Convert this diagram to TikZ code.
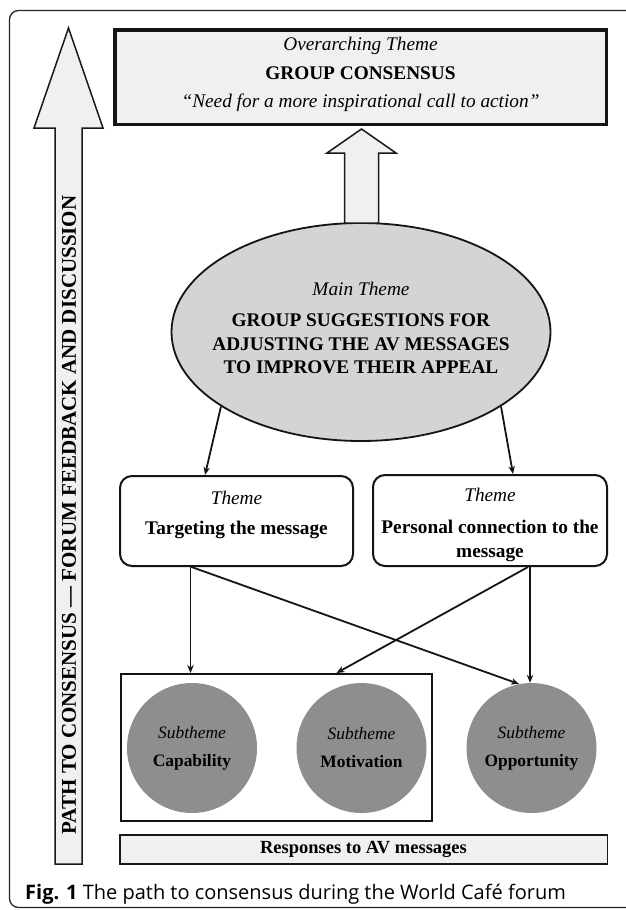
\documentclass[tikz,border=0pt]{standalone}
\usepackage{fontspec}
\setmainfont{Liberation Serif}
\newfontfamily\capfont{Open Sans}
\usetikzlibrary{arrows.meta,shapes.geometric}
\definecolor{lightfill}{RGB}{240,240,240}
\definecolor{ellgray}{RGB}{212,212,212}
\definecolor{circgray}{RGB}{142,142,142}
\tikzset{
  blockarrow/.style={draw=black!90, line width=1.5pt, fill=lightfill, line join=miter},
  topbox/.style={draw=black!92, line width=3.5pt, fill=lightfill, minimum width=491.5pt, minimum height=94.5pt, inner sep=0pt},
  themebox/.style={draw=black!92, line width=2pt, rounded corners=12pt, fill=white, inner sep=0pt},
  txt/.style={inner sep=0pt, align=center},
  subcircle/.style={circle, fill=circgray, draw=none, minimum size=130pt, inner sep=0pt, align=center, font=\fontsize{17.4}{28}\selectfont},
  grpbox/.style={draw=black!92, line width=2pt, inner sep=0pt, minimum width=311pt, minimum height=147pt},
  arr/.style={draw=black!92, line width=1.8pt, -{Stealth[length=8pt,width=6.5pt]}},
  mainell/.style={ellipse, draw=black!92, line width=1.8pt, fill=ellgray, minimum width=379pt, minimum height=218pt, inner sep=0pt},
  bar/.style={draw=black!90, line width=1.5pt, fill=lightfill, minimum width=487.5pt, minimum height=29pt, inner sep=0pt, font=\fontsize{18.5}{22}\selectfont\bfseries}
}
\begin{document}
\begin{tikzpicture}[x=1pt,y=-1pt]
\useasboundingbox (0,0) rectangle (625,910);
\fill[white] (0,0) rectangle (625,910);
% outer frame
\draw[rounded corners=9pt, line width=1.3pt, draw=black!85] (9.5,10.5) rectangle (660,907.5);

% left path arrow
\coordinate (ltip) at (68.5,28);
\draw[blockarrow] (ltip) -- ++(34.5,100) -- ++(-21,0) -- ++(0,736) -- ++(-27,0) -- ++(0,-736) -- ++(-21,0) -- cycle;
\node[txt, rotate=90, font=\fontsize{21}{24}\selectfont\bfseries] (pathlbl) at (69,515) {PATH TO CONSENSUS — FORUM FEEDBACK AND DISCUSSION};

% top box
\node[topbox] (top) at (360.5,77) {};
\node[txt, font=\fontsize{19.3}{28.5}\selectfont] (toptxt) at (360.5,74.5) {\textit{Overarching Theme}\\\textbf{GROUP CONSENSUS}\\\textit{“Need for a more inspirational call to action”}};

% main ellipse
\node[mainell] (main) at (361,332) {};
\node[txt, font=\fontsize{19.3}{23.5}\selectfont] (maintxt) at (361,328) {\textit{Main Theme}\\[7.5pt]\textbf{GROUP SUGGESTIONS FOR}\\\textbf{ADJUSTING THE AV MESSAGES}\\\textbf{TO IMPROVE THEIR APPEAL}};

% middle block arrow
\coordinate (mtip) at (361.5,129);
\draw[blockarrow] (mtip) -- ++(34.5,24) -- ++(-17.5,0) -- ++(0,70) -- ++(-34,0) -- ++(0,-70) -- ++(-17.5,0) -- cycle;

% theme boxes
\node[themebox, minimum width=233pt, minimum height=90pt] (lbox) at (236.5,521) {};
\node[txt, anchor=north, font=\fontsize{19.3}{24}\selectfont] (ltxt) at (236.5,490.5) {\textit{Theme}\\[6pt]\textbf{Targeting the message}};
\node[themebox, minimum width=234pt, minimum height=91pt] (rbox) at (490,520.5) {};
\node[txt, anchor=north, font=\fontsize{19.3}{24}\selectfont] (rtxt) at (490,487.5) {\textit{Theme}\\[8pt]\textbf{Personal connection to the}\\\textbf{message}};

% group rectangle and subtheme circles
\node[grpbox] (grp) at (276.5,747.5) {};
\node[subcircle] (cap) at (192,748) {\textit{Subtheme}\\\textbf{Capability}};
\node[subcircle] (mot) at (361.5,748) {\textit{Subtheme}\\\textbf{Motivation}};
\node[subcircle] (opp) at (531.5,748) {\textit{Subtheme}\\\textbf{Opportunity}};

% bottom bar
\node[bar] (resp) at (363.5,849.5) {Responses to AV messages};

% connectors
\draw[arr] (main.208) -- ([xshift=-31.5pt]lbox.north);
\draw[arr] (main.332) -- ([xshift=23pt]rbox.north);
\draw[arr] ([xshift=-46pt]lbox.south) -- ([xshift=-46pt]lbox.south |- grp.north);
\draw[arr] ([xshift=-45pt]lbox.south) -- (opp.101);
\draw[arr] ([xshift=40pt]rbox.south) -- ([xshift=40pt]rbox.south |- opp.north);
\draw[arr] ([xshift=38pt]rbox.south) -- ([xshift=60pt]grp.north);

% caption
\node[anchor=base west, inner sep=0pt, font=\capfont\fontsize{20}{22}\selectfont] (caption) at (25,899) {\textbf{Fig. 1} The path to consensus during the World Café forum};
\end{tikzpicture}
\end{document}
